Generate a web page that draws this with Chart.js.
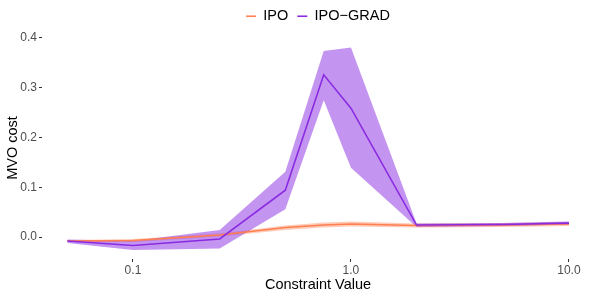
<!DOCTYPE html>
<html>
<head>
<meta charset="utf-8">
<script src="https://cdn.jsdelivr.net/npm/chart.js@4.4.0/dist/chart.umd.min.js"></script>
<style>
  body { margin: 0; background: #fff; }
  #wrap { width: 598px; height: 299px; }
</style>
</head>
<body>
<div id="wrap"><canvas id="chart" width="598" height="299"></canvas></div>
<script>
// constraint values (x, log scale)
var constraints = [0.05, 0.1, 0.25, 0.5, 0.75, 1, 2, 5, 10];

// IPO mean and ribbon
var ipoMean  = [-0.008, -0.007, 0.004, 0.019, 0.024, 0.026, 0.023, 0.024, 0.026];
var ipoLow   = [-0.010, -0.010, 0.001, 0.014, 0.019, 0.021, 0.019, 0.020, 0.022];
var ipoHigh  = [-0.006, -0.004, 0.007, 0.023, 0.029, 0.031, 0.027, 0.028, 0.030];

// IPO-GRAD mean and ribbon
var gradMean = [-0.008, -0.017, -0.004, 0.094, 0.326, 0.259, 0.024, 0.025, 0.028];
var gradLow  = [-0.012, -0.026, -0.023, 0.056, 0.275, 0.139, 0.020, 0.022, 0.025];
var gradHigh = [-0.005, -0.008, 0.014, 0.131, 0.374, 0.381, 0.027, 0.028, 0.031];

var xTicks = [0.1, 1, 10];
var yTicks = [0, 0.1, 0.2, 0.3, 0.4];

var seriesNames = ['IPO', 'IPO\u2212GRAD'];
var ipoColor = '#FF7F50';
var gradColor = '#8A2BE2';

function pts(vals) {
    return constraints.map(function(c, i) { return { x: c, y: vals[i] }; });
}

var ribbon = { pointRadius: 0, borderWidth: 0, tension: 0 };

var config = {
    type: 'line',
    data: {
        datasets: [
            Object.assign({ label: 'ipo-low', data: pts(ipoLow), fill: false, order: 3 }, ribbon),
            Object.assign({ label: 'ipo-high', data: pts(ipoHigh), fill: '-1', backgroundColor: 'rgba(255,127,80,0.4)', order: 3 }, ribbon),
            Object.assign({ label: 'grad-low', data: pts(gradLow), fill: false, order: 2 }, ribbon),
            Object.assign({ label: 'grad-high', data: pts(gradHigh), fill: '-1', backgroundColor: 'rgba(138,43,226,0.5)', order: 2 }, ribbon),
            { label: seriesNames[0], data: pts(ipoMean), borderColor: ipoColor, backgroundColor: ipoColor, borderWidth: 1.6, pointRadius: 0, fill: false, order: 1 },
            { label: seriesNames[1], data: pts(gradMean), borderColor: gradColor, backgroundColor: gradColor, borderWidth: 1.6, pointRadius: 0, fill: false, order: 0 }
        ]
    },
    options: {
        responsive: false,
        animation: false,
        layout: { padding: { left: 0, right: 4, top: 0, bottom: 0 } },
        plugins: {
            tooltip: { enabled: false },
            legend: {
                position: 'top',
                fullSize: false,
                labels: {
                    filter: function(item) { return item.datasetIndex >= 4; },
                    sort: function(a, b) { return a.datasetIndex - b.datasetIndex; },
                    usePointStyle: true,
                    pointStyle: 'line',
                    pointStyleWidth: 10,
                    boxHeight: 7,
                    padding: 9,
                    color: '#000',
                    font: { family: 'Liberation Sans', size: 14.5 }
                }
            }
        },
        scales: {
            x: {
                type: 'logarithmic',
                min: 0.03826,
                max: 13.03,
                bounds: 'data',
                afterBuildTicks: function(s) { s.ticks = xTicks.map(function(v) { return { value: v }; }); },
                afterFit: function(s) { s.height = 40; },
                grid: { display: true, drawOnChartArea: false, tickLength: 3, color: '#333' },
                border: { display: false },
                ticks: {
                    autoSkip: false,
                    maxRotation: 0,
                    padding: 1,
                    color: '#4D4D4D',
                    font: { family: 'Liberation Sans', size: 12 },
                    callback: function(v) { return Number(v).toFixed(1); }
                },
                title: {
                    display: true,
                    text: 'Constraint Value',
                    color: '#000',
                    padding: { top: 0, bottom: 5 },
                    font: { family: 'Liberation Sans', size: 14.5 }
                }
            },
            y: {
                min: -0.0442,
                max: 0.402,
                afterBuildTicks: function(s) { s.ticks = yTicks.map(function(v) { return { value: v }; }); },
                afterFit: function(s) { s.width = 42; },
                grid: { display: true, drawOnChartArea: false, tickLength: 3, color: '#333' },
                border: { display: false },
                ticks: {
                    padding: 2,
                    color: '#4D4D4D',
                    font: { family: 'Liberation Sans', size: 12 },
                    callback: function(v) { return Number(v).toFixed(1); }
                },
                title: {
                    display: true,
                    text: 'MVO cost',
                    color: '#000',
                    padding: { top: 4, bottom: 0 },
                    font: { family: 'Liberation Sans', size: 14.5 }
                }
            }
        }
    },
    plugins: [{
        id: 'legendHeight',
        beforeInit: function(chart) {
            var fit = chart.legend.fit;
            chart.legend.fit = function() { fit.call(this); this.height = 37; };
        }
    }]
};

window.onload = function() {
    var ctx = document.getElementById('chart').getContext('2d');
    window.myChart = new Chart(ctx, config);
};
</script>
</body>
</html>
